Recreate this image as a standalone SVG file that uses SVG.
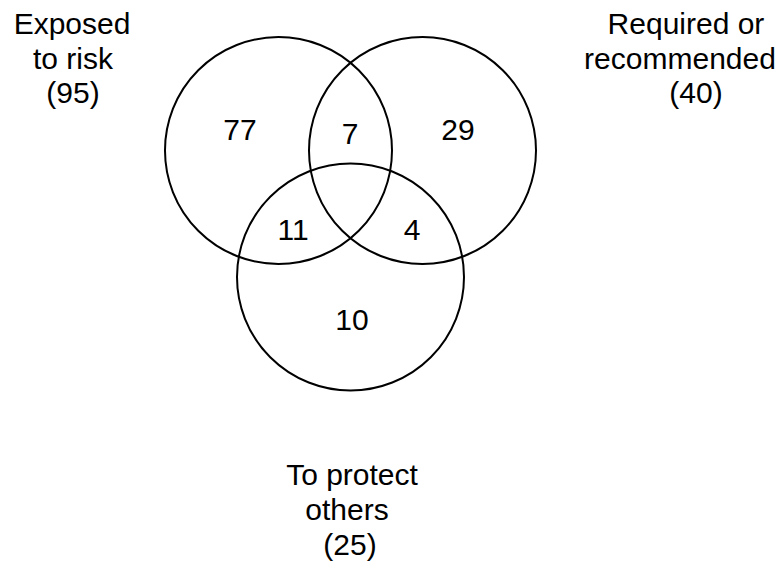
<svg xmlns="http://www.w3.org/2000/svg" width="781" height="568" viewBox="0 0 781 568">
<style>
.c{fill:none;stroke:#000;stroke-width:2}
.t{font-family:"Liberation Sans",Arial,sans-serif;font-size:30px;fill:#000;text-anchor:middle}
</style>
<rect width="781" height="568" fill="#fff"/>
<g id="set-exposed">
<circle class="c" cx="278.5" cy="150.5" r="113.5"/>
<text class="t"><tspan x="72" y="34">Exposed</tspan><tspan x="73" y="68.5">to risk</tspan><tspan x="73" y="103">(95)</tspan></text>
</g>
<g id="set-required">
<circle class="c" cx="422.5" cy="150.5" r="113.5"/>
<text class="t"><tspan x="686" y="34">Required or</tspan><tspan x="680" y="68.5">recommended</tspan><tspan x="696" y="103">(40)</tspan></text>
</g>
<g id="set-protect">
<circle class="c" cx="350.5" cy="277" r="113.5"/>
<text class="t"><tspan x="352" y="485">To protect</tspan><tspan x="347" y="520">others</tspan><tspan x="350" y="555">(25)</tspan></text>
</g>
<g id="regions">
<text class="t" x="240" y="140">77</text>
<text class="t" x="350" y="144">7</text>
<text class="t" x="458" y="140">29</text>
<text class="t" x="293" y="240">11</text>
<text class="t" x="412" y="240">4</text>
<text class="t" x="352" y="330">10</text>
</g>
<g id="connectors"></g>
</svg>
